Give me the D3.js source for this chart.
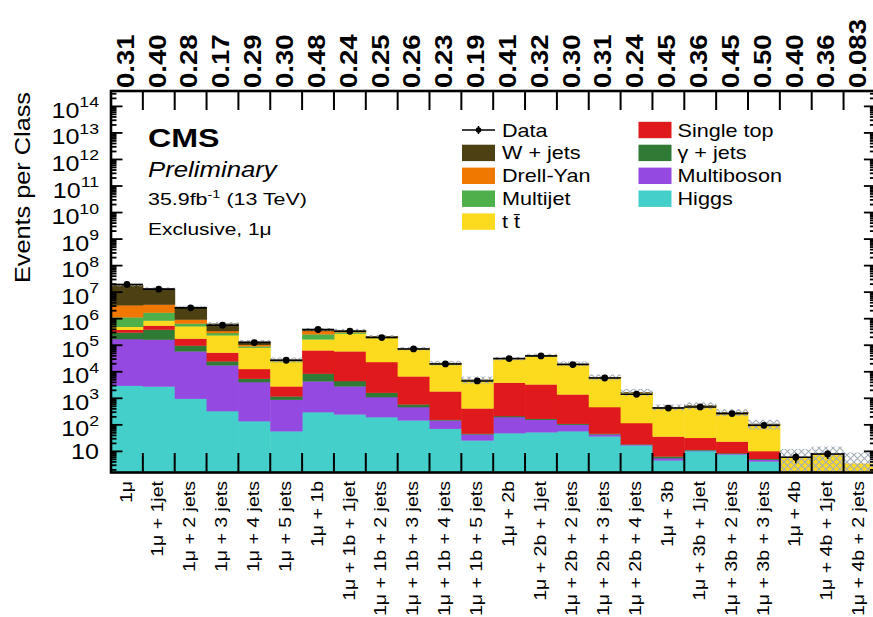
<!DOCTYPE html>
<html>
<head>
<meta charset="utf-8">
<script src="https://cdn.jsdelivr.net/npm/d3@7"></script>
<style>
  body { margin: 0; background: #fff; }
  svg { display: block; font-family: "Liberation Sans", Arial, sans-serif; }
</style>
</head>
<body>
<div id="chart"></div>
<script>
// event classes (x categories) and the p-values printed on top
var classes = ["1\u03bc", "1\u03bc + 1jet", "1\u03bc + 2 jets", "1\u03bc + 3 jets", "1\u03bc + 4 jets", "1\u03bc + 5 jets",
    "1\u03bc + 1b", "1\u03bc + 1b + 1jet", "1\u03bc + 1b + 2 jets", "1\u03bc + 1b + 3 jets", "1\u03bc + 1b + 4 jets", "1\u03bc + 1b + 5 jets",
    "1\u03bc + 2b", "1\u03bc + 2b + 1jet", "1\u03bc + 2b + 2 jets", "1\u03bc + 2b + 3 jets", "1\u03bc + 2b + 4 jets",
    "1\u03bc + 3b", "1\u03bc + 3b + 1jet", "1\u03bc + 3b + 2 jets", "1\u03bc + 3b + 3 jets",
    "1\u03bc + 4b", "1\u03bc + 4b + 1jet", "1\u03bc + 4b + 2 jets"];
var pValues = ["0.31", "0.40", "0.28", "0.17", "0.29", "0.30", "0.48", "0.24", "0.25", "0.26", "0.23", "0.19",
    "0.41", "0.32", "0.30", "0.31", "0.24", "0.45", "0.36", "0.45", "0.50", "0.40", "0.36", "0.083"];

// simulated backgrounds, bottom of the stack first
var higgs      = [3000, 2800, 975, 332, 139, 58, 304, 249, 197, 148, 72, 26, 49, 53, 58, 37, 17, 4.6, 10.3, 7.7, 4.2, 0, 0, 0];
var multiboson = [168000, 161000, 58400, 17300, 3980, 836, 4080, 2590, 922, 322, 76, 18, 148, 104, 44, 7, 1.1, 1.0, 0.6, 0.5, 0.7, 0, 0, 0];
var gammaJets  = [133000, 227000, 38100, 7300, 1410, 295, 4170, 1660, 522, 124, 9, 3, 18, 14, 9, 3, 0.5, 0.9, 0.7, 0.4, 0.4, 0, 0, 0];
var singleTop  = [81000, 162000, 81500, 28200, 7300, 1650, 56000, 54900, 21800, 6170, 1680, 373, 3690, 3200, 1300, 423, 99, 30, 21, 15, 5, 0.3, 0.3, 0.2];
var ttbar      = [114000, 302000, 342000, 185000, 69000, 20600, 103000, 217000, 165000, 62000, 17400, 4240, 24900, 35100, 17300, 5360, 1470, 371, 466, 241, 85, 5.5, 7.3, 3.3];
var multijet   = [640000, 855000, 138000, 53000, 9700, 1500, 92000, 34000, 12000, 2500, 800, 150, 1000, 1300, 600, 180, 50, 20, 15, 13, 5, 0.1, 0.1, 0];
var drellYan   = [2090000, 1720000, 274000, 56000, 13000, 1100, 87000, 27000, 10000, 2000, 700, 130, 900, 1100, 500, 170, 45, 20, 15, 12, 5, 0.1, 0.1, 0];
var wJets      = [15200000, 10400000, 1860000, 312000, 37000, 2800, 55000, 31000, 9000, 2000, 800, 150, 800, 1100, 600, 180, 50, 22, 17, 14, 5, 0.2, 0.2, 0];

// observed events and relative MC uncertainty
var observed = [19500000, 13000000, 2560000, 569000, 126000, 27200, 391000, 337000, 195000, 72500, 19700, 4500,
    31500, 39500, 18700, 5830, 1420, 430, 470, 265, 96, 6, 8, 0];
var mcUnc = [0.1, 0.1, 0.1, 0.12, 0.12, 0.2, 0.12, 0.12, 0.12, 0.15, 0.2, 0.3, 0.15, 0.15, 0.2, 0.25, 0.3, 0.25, 0.3, 0.3, 0.4, 1.0, 0.9, 1.6];

var series = [
    { key: "Higgs", values: higgs, color: "#45cfca" },
    { key: "Multiboson", values: multiboson, color: "#9449e0" },
    { key: "\u03b3 + jets", values: gammaJets, color: "#2f7a35" },
    { key: "Single top", values: singleTop, color: "#e01a1c" },
    { key: "t t\u0304", values: ttbar, color: "#fcda1e" },
    { key: "Multijet", values: multijet, color: "#4db04a" },
    { key: "Drell-Yan", values: drellYan, color: "#f07800" },
    { key: "W + jets", values: wJets, color: "#4d4012" }
];
var colorOf = {};
series.forEach(function (s) { colorOf[s.key] = s.color; });

const w = 873;
const h = 617;
const plotLeft = 111, plotRight = 875.4, plotTop = 91, plotBottom = 472.5;
const yMin = 1.6;

const xScale = d3.scaleLinear().domain([0, classes.length]).range([plotLeft, plotRight]);
const yScale = d3.scaleLog().domain([yMin, 3.8e14]).range([plotBottom, plotTop]).clamp(true);

const svg = d3.select("#chart").append("svg")
    .attr("width", w)
    .attr("height", h);

// hatch for the MC uncertainty
svg.append("defs").append("pattern")
    .attr("id", "hatch")
    .attr("patternUnits", "userSpaceOnUse")
    .attr("width", 7)
    .attr("height", 7)
    .append("path")
    .attr("d", "M0,0 L7,7 M7,0 L0,7")
    .attr("stroke", "#a3adb8")
    .attr("stroke-width", 1.1);

const plot = svg.append("g");

// stacked histogram
var rows = classes.map(function (c, i) {
    var r = { idx: i };
    series.forEach(function (s) { r[s.key] = s.values[i]; });
    return r;
});
var stacked = d3.stack().keys(series.map(function (s) { return s.key; }))(rows);

stacked.forEach(function (layer) {
    plot.append("g")
        .selectAll("rect")
        .data(layer.filter(function (d) { return d[1] - d[0] > 0; }))
        .enter()
        .append("rect")
        .attr("x", function (d) { return xScale(d.data.idx); })
        .attr("width", function (d) { return xScale(d.data.idx + 1) - xScale(d.data.idx) + 0.5; })
        .attr("y", function (d) { return yScale(d[1]); })
        .attr("height", function (d) { return yScale(Math.max(d[0], yMin)) - yScale(d[1]) + 0.3; })
        .attr("fill", colorOf[layer.key]);
});

// uncertainty band
var totals = rows.map(function (r, i) { return d3.sum(series, function (s) { return s.values[i]; }); });
plot.append("g")
    .selectAll("rect")
    .data(totals)
    .enter()
    .append("rect")
    .attr("x", function (d, i) { return xScale(i); })
    .attr("width", function (d, i) { return xScale(i + 1) - xScale(i); })
    .attr("y", function (d, i) { return yScale(d * (1 + mcUnc[i])); })
    .attr("height", function (d, i) {
        return yScale(Math.max(d * (1 - mcUnc[i]), yMin)) - yScale(d * (1 + mcUnc[i]));
    })
    .attr("fill", "url(#hatch)");

// data points
var dataG = plot.append("g");
observed.forEach(function (n, i) {
    if (n <= 0) return;
    var yc = yScale(n);
    var err = Math.sqrt(n);
    dataG.append("line")
        .attr("x1", xScale(i)).attr("x2", xScale(i + 1))
        .attr("y1", yc).attr("y2", yc)
        .attr("stroke", "#000").attr("stroke-width", 1.6);
    dataG.append("line")
        .attr("x1", xScale(i + 0.5)).attr("x2", xScale(i + 0.5))
        .attr("y1", yScale(n + err)).attr("y2", yScale(Math.max(n - err, yMin)))
        .attr("stroke", "#000").attr("stroke-width", 1.6);
    dataG.append("circle")
        .attr("cx", xScale(i + 0.5)).attr("cy", yc)
        .attr("r", 3.4).attr("fill", "#000");
});

// axes and frame
var axisG = svg.append("g").attr("stroke", "#000");
for (var i = 1; i < classes.length; i++) {
    axisG.append("line").attr("x1", xScale(i)).attr("x2", xScale(i))
        .attr("y1", plotBottom).attr("y2", plotBottom - 19.5).attr("stroke-width", 2);
    axisG.append("line").attr("x1", xScale(i)).attr("x2", xScale(i))
        .attr("y1", plotTop).attr("y2", plotTop + 19).attr("stroke-width", 2);
}
for (var n = 0; n <= 14; n++) {
    for (var k = 1; k <= 9; k++) {
        var v = k * Math.pow(10, n);
        if (v < yMin || v > 3.8e14) continue;
        var yy = yScale(v);
        var len = k === 1 ? 11.5 : 5.5;
        axisG.append("line").attr("x1", plotLeft).attr("x2", plotLeft + len)
            .attr("y1", yy).attr("y2", yy).attr("stroke-width", 1.8);
        axisG.append("line").attr("x1", plotRight).attr("x2", plotRight - len)
            .attr("y1", yy).attr("y2", yy).attr("stroke-width", 1.8);
    }
}
svg.append("rect")
    .attr("x", plotLeft).attr("y", plotTop)
    .attr("width", plotRight - plotLeft).attr("height", plotBottom - plotTop)
    .attr("fill", "none").attr("stroke", "#000").attr("stroke-width", 2.6);

// y tick labels 10^n
for (var p = 1; p <= 14; p++) {
    var t = svg.append("g")
        .attr("transform", "translate(99," + yScale(Math.pow(10, p)) + ") scale(1.14,1)")
        .append("text")
        .attr("text-anchor", "end")
        .attr("font-size", 22);
    t.append("tspan").attr("y", p === 1 ? 7.9 : 11.5).text("10");
    if (p > 1) {
        t.append("tspan").attr("dy", -10.5).attr("font-size", 15.5).text(p);
    }
}

// y title
svg.append("g")
    .attr("transform", "translate(29.5,92) rotate(-90) scale(1.15,1)")
    .append("text")
    .attr("text-anchor", "end")
    .attr("font-size", 22)
    .text("Events per Class");

// p-values on top
svg.append("g").selectAll("g")
    .data(pValues)
    .enter()
    .append("g")
    .attr("transform", function (d, i) { return "translate(" + (xScale(i + 0.5) - 1.5) + ",88) rotate(-90) scale(1.2,1)"; })
    .append("text")
    .attr("dy", "0.36em")
    .attr("font-size", 23)
    .attr("font-weight", "bold")
    .text(function (d) { return d; });

// class names below
svg.append("g").selectAll("g")
    .data(classes)
    .enter()
    .append("g")
    .attr("transform", function (d, i) { return "translate(" + (xScale(i + 0.5) - 1.5) + ",481) rotate(-90) scale(1.15,1)"; })
    .append("text")
    .attr("text-anchor", "end")
    .attr("dy", "0.36em")
    .attr("font-size", 17)
    .text(function (d) { return d; });

// CMS labels
function stretchText(xp, yp, sx, size, txt) {
    return svg.append("g")
        .attr("transform", "translate(" + xp + "," + yp + ") scale(" + sx + ",1)")
        .append("text")
        .attr("font-size", size)
        .text(txt);
}
stretchText(148, 146.7, 1.24, 26, "CMS").attr("font-weight", "bold");
stretchText(148, 176.5, 1.17, 22, "Preliminary").attr("font-style", "italic");
var lumi = stretchText(148, 205, 1.26, 17, "35.9fb");
lumi.append("tspan").attr("dy", -7).attr("font-size", 11.5).text("-1");
lumi.append("tspan").attr("dy", 7).text(" (13 TeV)");
stretchText(148, 235, 1.23, 17, "Exclusive, 1\u03bc");

// legend
var legendCols = [
    ["Data", "W + jets", "Drell-Yan", "Multijet", "t t\u0304"],
    ["Single top", "\u03b3 + jets", "Multiboson", "Higgs"]
];
var colX = [462, 638.5];
var textX = [502, 677.5];
legendCols.forEach(function (col, c) {
    col.forEach(function (name, r) {
        var cy = 130 + r * 22.9;
        if (name === "Data") {
            svg.append("line").attr("x1", colX[c]).attr("x2", colX[c] + 33)
                .attr("y1", cy).attr("y2", cy).attr("stroke", "#000").attr("stroke-width", 1.5);
            svg.append("line").attr("x1", colX[c] + 16.5).attr("x2", colX[c] + 16.5)
                .attr("y1", cy - 4).attr("y2", cy + 4).attr("stroke", "#000").attr("stroke-width", 1.5);
            svg.append("circle").attr("cx", colX[c] + 16.5).attr("cy", cy).attr("r", 2.8).attr("fill", "#000");
        } else {
            svg.append("rect").attr("x", colX[c]).attr("y", cy - 8.2)
                .attr("width", 33).attr("height", 16.4)
                .attr("fill", colorOf[name]);
        }
        stretchText(textX[c], cy + 6.5, 1.2, 18, name);
    });
});
</script>
</body>
</html>
